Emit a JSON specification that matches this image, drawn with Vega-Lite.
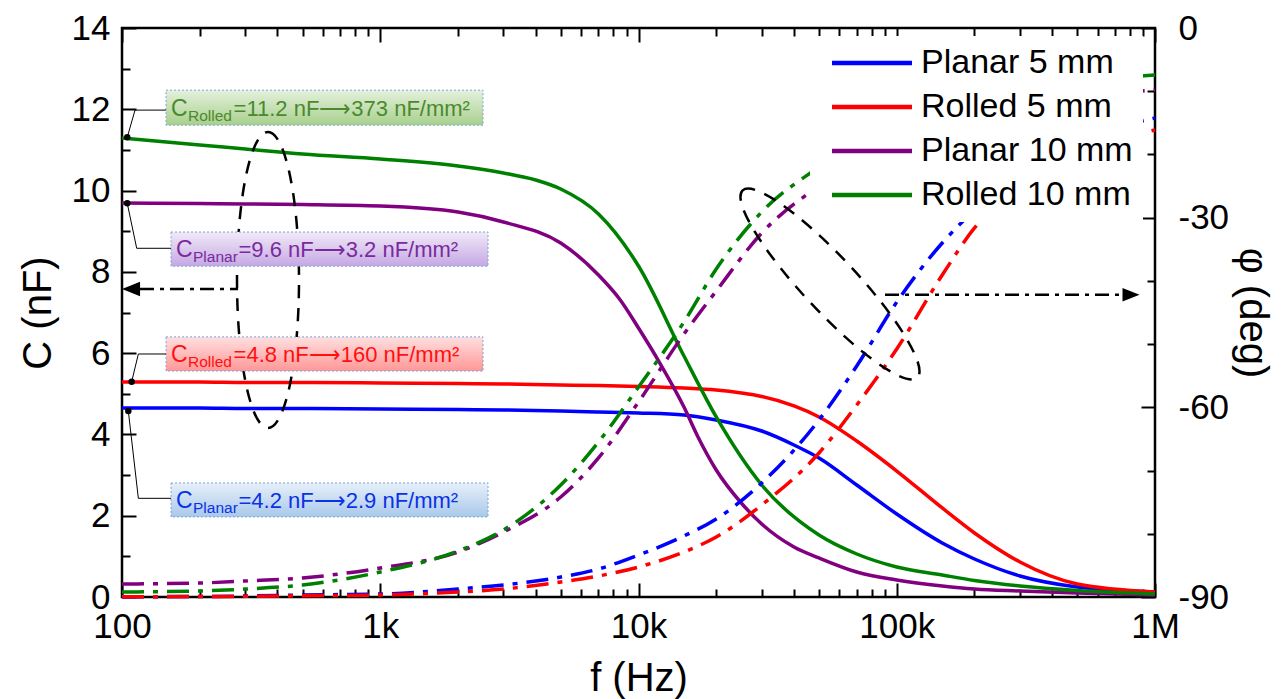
{
  "$schema": "https://vega.github.io/schema/vega-lite/v6.json",
  "width": 1033,
  "height": 569,
  "autosize": {"type": "none"},
  "padding": {"left": 122, "top": 28, "right": 126, "bottom": 102},
  "background": "white",
  "config": {
    "font": "Liberation Sans",
    "view": {"stroke": "black", "strokeWidth": 2.5},
    "axis": {
      "domain": false,
      "grid": false,
      "ticks": true,
      "tickColor": "black",
      "tickWidth": 2,
      "labelColor": "black",
      "titleColor": "black",
      "labelFont": "Liberation Sans",
      "titleFont": "Liberation Sans",
      "labelFontSize": 35,
      "titleFontSize": 40,
      "titleFontWeight": "normal",
      "labelOverlap": false,
      "labelFlush": false,
      "labelBound": false
    }
  },
  "datasets": {
    "cap": [
      {"series": "Planar 5 mm", "f": 100, "c": 4.650}, {"series": "Planar 5 mm", "f": 200, "c": 4.650}, {"series": "Planar 5 mm", "f": 300, "c": 4.638}, {"series": "Planar 5 mm", "f": 500, "c": 4.638}, {"series": "Planar 5 mm", "f": 1000, "c": 4.626}, {"series": "Planar 5 mm", "f": 2000, "c": 4.613}, {"series": "Planar 5 mm", "f": 3000, "c": 4.601}, {"series": "Planar 5 mm", "f": 5000, "c": 4.576}, {"series": "Planar 5 mm", "f": 7000, "c": 4.552}, {"series": "Planar 5 mm", "f": 10000, "c": 4.527}, {"series": "Planar 5 mm", "f": 15000, "c": 4.478}, {"series": "Planar 5 mm", "f": 20000, "c": 4.355}, {"series": "Planar 5 mm", "f": 30000, "c": 4.084}, {"series": "Planar 5 mm", "f": 40000, "c": 3.740}, {"series": "Planar 5 mm", "f": 50000, "c": 3.420}, {"series": "Planar 5 mm", "f": 70000, "c": 2.756}, {"series": "Planar 5 mm", "f": 100000, "c": 2.042}, {"series": "Planar 5 mm", "f": 150000, "c": 1.329}, {"series": "Planar 5 mm", "f": 200000, "c": 0.935}, {"series": "Planar 5 mm", "f": 300000, "c": 0.517}, {"series": "Planar 5 mm", "f": 500000, "c": 0.246}, {"series": "Planar 5 mm", "f": 1000000, "c": 0.123},
      {"series": "Rolled 5 mm", "f": 100, "c": 5.290}, {"series": "Rolled 5 mm", "f": 200, "c": 5.290}, {"series": "Rolled 5 mm", "f": 300, "c": 5.278}, {"series": "Rolled 5 mm", "f": 500, "c": 5.278}, {"series": "Rolled 5 mm", "f": 1000, "c": 5.265}, {"series": "Rolled 5 mm", "f": 2000, "c": 5.253}, {"series": "Rolled 5 mm", "f": 3000, "c": 5.241}, {"series": "Rolled 5 mm", "f": 5000, "c": 5.216}, {"series": "Rolled 5 mm", "f": 7000, "c": 5.204}, {"series": "Rolled 5 mm", "f": 10000, "c": 5.180}, {"series": "Rolled 5 mm", "f": 15000, "c": 5.142}, {"series": "Rolled 5 mm", "f": 20000, "c": 5.093}, {"series": "Rolled 5 mm", "f": 25000, "c": 5.019}, {"series": "Rolled 5 mm", "f": 30000, "c": 4.933}, {"series": "Rolled 5 mm", "f": 40000, "c": 4.700}, {"series": "Rolled 5 mm", "f": 50000, "c": 4.429}, {"series": "Rolled 5 mm", "f": 70000, "c": 3.838}, {"series": "Rolled 5 mm", "f": 100000, "c": 3.100}, {"series": "Rolled 5 mm", "f": 150000, "c": 2.190}, {"series": "Rolled 5 mm", "f": 200000, "c": 1.575}, {"series": "Rolled 5 mm", "f": 300000, "c": 0.861}, {"series": "Rolled 5 mm", "f": 500000, "c": 0.320}, {"series": "Rolled 5 mm", "f": 1000000, "c": 0.123},
      {"series": "Planar 10 mm", "f": 100, "c": 9.694}, {"series": "Planar 10 mm", "f": 200, "c": 9.682}, {"series": "Planar 10 mm", "f": 300, "c": 9.670}, {"series": "Planar 10 mm", "f": 500, "c": 9.657}, {"series": "Planar 10 mm", "f": 1000, "c": 9.620}, {"series": "Planar 10 mm", "f": 2000, "c": 9.473}, {"series": "Planar 10 mm", "f": 3000, "c": 9.227}, {"series": "Planar 10 mm", "f": 5000, "c": 8.710}, {"series": "Planar 10 mm", "f": 7000, "c": 7.923}, {"series": "Planar 10 mm", "f": 8500, "c": 7.308}, {"series": "Planar 10 mm", "f": 10000, "c": 6.619}, {"series": "Planar 10 mm", "f": 12000, "c": 5.794}, {"series": "Planar 10 mm", "f": 15000, "c": 4.675}, {"series": "Planar 10 mm", "f": 17000, "c": 3.937}, {"series": "Planar 10 mm", "f": 20000, "c": 3.125}, {"series": "Planar 10 mm", "f": 25000, "c": 2.313}, {"series": "Planar 10 mm", "f": 30000, "c": 1.796}, {"series": "Planar 10 mm", "f": 40000, "c": 1.230}, {"series": "Planar 10 mm", "f": 50000, "c": 0.960}, {"series": "Planar 10 mm", "f": 70000, "c": 0.615}, {"series": "Planar 10 mm", "f": 100000, "c": 0.418}, {"series": "Planar 10 mm", "f": 150000, "c": 0.271}, {"series": "Planar 10 mm", "f": 200000, "c": 0.197}, {"series": "Planar 10 mm", "f": 300000, "c": 0.148}, {"series": "Planar 10 mm", "f": 500000, "c": 0.098}, {"series": "Planar 10 mm", "f": 1000000, "c": 0.049},
      {"series": "Rolled 10 mm", "f": 100, "c": 11.294}, {"series": "Rolled 10 mm", "f": 200, "c": 11.121}, {"series": "Rolled 10 mm", "f": 300, "c": 11.023}, {"series": "Rolled 10 mm", "f": 500, "c": 10.899}, {"series": "Rolled 10 mm", "f": 1000, "c": 10.776}, {"series": "Rolled 10 mm", "f": 2000, "c": 10.604}, {"series": "Rolled 10 mm", "f": 3000, "c": 10.432}, {"series": "Rolled 10 mm", "f": 4000, "c": 10.259}, {"series": "Rolled 10 mm", "f": 5000, "c": 10.038}, {"series": "Rolled 10 mm", "f": 7000, "c": 9.423}, {"series": "Rolled 10 mm", "f": 10000, "c": 8.144}, {"series": "Rolled 10 mm", "f": 15000, "c": 5.930}, {"series": "Rolled 10 mm", "f": 20000, "c": 4.429}, {"series": "Rolled 10 mm", "f": 30000, "c": 2.756}, {"series": "Rolled 10 mm", "f": 50000, "c": 1.525}, {"series": "Rolled 10 mm", "f": 70000, "c": 1.058}, {"series": "Rolled 10 mm", "f": 100000, "c": 0.738}, {"series": "Rolled 10 mm", "f": 150000, "c": 0.541}, {"series": "Rolled 10 mm", "f": 200000, "c": 0.406}, {"series": "Rolled 10 mm", "f": 300000, "c": 0.271}, {"series": "Rolled 10 mm", "f": 500000, "c": 0.160}, {"series": "Rolled 10 mm", "f": 1000000, "c": 0.074}
    ],
    "phase": [
      {"series": "Planar 5 mm", "f": 100, "phi": -89.95}, {"series": "Planar 5 mm", "f": 200, "phi": -89.92}, {"series": "Planar 5 mm", "f": 300, "phi": -89.84}, {"series": "Planar 5 mm", "f": 500, "phi": -89.68}, {"series": "Planar 5 mm", "f": 1000, "phi": -89.53}, {"series": "Planar 5 mm", "f": 2000, "phi": -88.74}, {"series": "Planar 5 mm", "f": 3000, "phi": -88.10}, {"series": "Planar 5 mm", "f": 5000, "phi": -86.84}, {"series": "Planar 5 mm", "f": 7000, "phi": -85.57}, {"series": "Planar 5 mm", "f": 10000, "phi": -83.36}, {"series": "Planar 5 mm", "f": 15000, "phi": -80.35}, {"series": "Planar 5 mm", "f": 20000, "phi": -77.66}, {"series": "Planar 5 mm", "f": 30000, "phi": -71.97}, {"series": "Planar 5 mm", "f": 50000, "phi": -62.00}, {"series": "Planar 5 mm", "f": 70000, "phi": -53.46}, {"series": "Planar 5 mm", "f": 100000, "phi": -43.34}, {"series": "Planar 5 mm", "f": 150000, "phi": -34.01}, {"series": "Planar 5 mm", "f": 200000, "phi": -28.79}, {"series": "Planar 5 mm", "f": 300000, "phi": -22.78}, {"series": "Planar 5 mm", "f": 500000, "phi": -17.87}, {"series": "Planar 5 mm", "f": 1000000, "phi": -14.24},
      {"series": "Rolled 5 mm", "f": 100, "phi": -89.95}, {"series": "Rolled 5 mm", "f": 200, "phi": -89.93}, {"series": "Rolled 5 mm", "f": 300, "phi": -89.90}, {"series": "Rolled 5 mm", "f": 500, "phi": -89.80}, {"series": "Rolled 5 mm", "f": 1000, "phi": -89.68}, {"series": "Rolled 5 mm", "f": 2000, "phi": -89.21}, {"series": "Rolled 5 mm", "f": 3000, "phi": -88.74}, {"series": "Rolled 5 mm", "f": 5000, "phi": -87.63}, {"series": "Rolled 5 mm", "f": 7000, "phi": -86.68}, {"series": "Rolled 5 mm", "f": 10000, "phi": -85.26}, {"series": "Rolled 5 mm", "f": 15000, "phi": -82.88}, {"series": "Rolled 5 mm", "f": 20000, "phi": -80.51}, {"series": "Rolled 5 mm", "f": 30000, "phi": -75.45}, {"series": "Rolled 5 mm", "f": 50000, "phi": -67.22}, {"series": "Rolled 5 mm", "f": 70000, "phi": -59.63}, {"series": "Rolled 5 mm", "f": 100000, "phi": -50.77}, {"series": "Rolled 5 mm", "f": 150000, "phi": -39.07}, {"series": "Rolled 5 mm", "f": 200000, "phi": -31.63}, {"series": "Rolled 5 mm", "f": 300000, "phi": -24.99}, {"series": "Rolled 5 mm", "f": 500000, "phi": -19.77}, {"series": "Rolled 5 mm", "f": 1000000, "phi": -16.13},
      {"series": "Planar 10 mm", "f": 100, "phi": -87.94}, {"series": "Planar 10 mm", "f": 200, "phi": -87.79}, {"series": "Planar 10 mm", "f": 300, "phi": -87.47}, {"series": "Planar 10 mm", "f": 500, "phi": -86.99}, {"series": "Planar 10 mm", "f": 1000, "phi": -85.41}, {"series": "Planar 10 mm", "f": 2000, "phi": -82.88}, {"series": "Planar 10 mm", "f": 3000, "phi": -79.72}, {"series": "Planar 10 mm", "f": 5000, "phi": -74.18}, {"series": "Planar 10 mm", "f": 7000, "phi": -68.01}, {"series": "Planar 10 mm", "f": 10000, "phi": -59.16}, {"series": "Planar 10 mm", "f": 15000, "phi": -48.40}, {"series": "Planar 10 mm", "f": 20000, "phi": -41.60}, {"series": "Planar 10 mm", "f": 30000, "phi": -32.43}, {"series": "Planar 10 mm", "f": 50000, "phi": -24.99}, {"series": "Planar 10 mm", "f": 70000, "phi": -21.19}, {"series": "Planar 10 mm", "f": 100000, "phi": -18.03}, {"series": "Planar 10 mm", "f": 150000, "phi": -15.50}, {"series": "Planar 10 mm", "f": 200000, "phi": -13.92}, {"series": "Planar 10 mm", "f": 300000, "phi": -12.34}, {"series": "Planar 10 mm", "f": 500000, "phi": -10.91}, {"series": "Planar 10 mm", "f": 1000000, "phi": -9.81},
      {"series": "Rolled 10 mm", "f": 100, "phi": -89.21}, {"series": "Rolled 10 mm", "f": 200, "phi": -89.05}, {"series": "Rolled 10 mm", "f": 300, "phi": -88.74}, {"series": "Rolled 10 mm", "f": 500, "phi": -88.10}, {"series": "Rolled 10 mm", "f": 1000, "phi": -86.05}, {"series": "Rolled 10 mm", "f": 2000, "phi": -82.72}, {"series": "Rolled 10 mm", "f": 3000, "phi": -79.40}, {"series": "Rolled 10 mm", "f": 5000, "phi": -72.28}, {"series": "Rolled 10 mm", "f": 7000, "phi": -65.48}, {"series": "Rolled 10 mm", "f": 10000, "phi": -56.78}, {"series": "Rolled 10 mm", "f": 15000, "phi": -46.50}, {"series": "Rolled 10 mm", "f": 20000, "phi": -38.12}, {"series": "Rolled 10 mm", "f": 30000, "phi": -29.10}, {"series": "Rolled 10 mm", "f": 50000, "phi": -21.99}, {"series": "Rolled 10 mm", "f": 70000, "phi": -18.03}, {"series": "Rolled 10 mm", "f": 100000, "phi": -14.87}, {"series": "Rolled 10 mm", "f": 150000, "phi": -12.18}, {"series": "Rolled 10 mm", "f": 200000, "phi": -10.76}, {"series": "Rolled 10 mm", "f": 300000, "phi": -9.49}, {"series": "Rolled 10 mm", "f": 500000, "phi": -8.38}, {"series": "Rolled 10 mm", "f": 1000000, "phi": -7.43}
    ],
    "notes": [
      {"series": "Rolled 10 mm", "sub": "Rolled", "rest": "=11.2 nF⟶373 nF/mm²", "f_from": 148.1, "f_to": 2500, "c_low": 11.61, "c_high": 12.47},
      {"series": "Planar 10 mm", "sub": "Planar", "rest": "=9.6 nF⟶3.2 nF/mm²", "f_from": 154.8, "f_to": 2614, "c_low": 8.14, "c_high": 8.98},
      {"series": "Rolled 5 mm", "sub": "Rolled", "rest": "=4.8 nF⟶160 nF/mm²", "f_from": 148.1, "f_to": 2500, "c_low": 5.56, "c_high": 6.40},
      {"series": "Planar 5 mm", "sub": "Planar", "rest": "=4.2 nF⟶2.9 nF/mm²", "f_from": 154.8, "f_to": 2614, "c_low": 1.97, "c_high": 2.805}
    ],
    "leaders": [
      {"series": "Rolled 10 mm", "step": 0, "f": 104.8, "c": 11.31}, {"series": "Rolled 10 mm", "step": 1, "f": 112.3, "c": 11.98}, {"series": "Rolled 10 mm", "step": 2, "f": 148.1, "c": 11.98},
      {"series": "Planar 10 mm", "step": 0, "f": 104.8, "c": 9.687}, {"series": "Planar 10 mm", "step": 1, "f": 114.0, "c": 8.58}, {"series": "Planar 10 mm", "step": 2, "f": 154.8, "c": 8.58},
      {"series": "Rolled 5 mm", "step": 0, "f": 109.0, "c": 5.297}, {"series": "Rolled 5 mm", "step": 1, "f": 115.7, "c": 5.979}, {"series": "Rolled 5 mm", "step": 2, "f": 148.1, "c": 5.979},
      {"series": "Planar 5 mm", "step": 0, "f": 105.8, "c": 4.576}, {"series": "Planar 5 mm", "step": 1, "f": 115.7, "c": 2.428}, {"series": "Planar 5 mm", "step": 2, "f": 154.8, "c": 2.428}
    ],
    "ring_cap": [{"f": 367.6, "c": 7.80}],
    "ring_phase": [{"f": 55140, "phi": -40.5}],
    "pointer_cap": [{"f": 117.4, "c": 7.58}, {"f": 281.4, "c": 7.58}],
    "pointer_phase": [{"f": 90060, "phi": -42.2}, {"f": 745000, "phi": -42.2}],
    "tip_cap": [{"f": 108.4, "c": 7.58}],
    "tip_phase": [{"f": 807400, "phi": -42.2}]
  },
  "layer": [
    {
      "layer": [
        {
          "data": {"name": "cap"},
          "mark": {"type": "line", "strokeWidth": 3.5, "interpolate": "monotone"},
          "encoding": {
            "x": {
              "field": "f", "type": "quantitative",
              "scale": {"type": "log", "domain": [100, 1000000]},
              "axis": {
                "orient": "bottom",
                "values": [100, 200, 300, 400, 500, 600, 700, 800, 900, 1000, 2000, 3000, 4000, 5000, 6000, 7000, 8000, 9000, 10000, 20000, 30000, 40000, 50000, 60000, 70000, 80000, 90000, 100000, 200000, 300000, 400000, 500000, 600000, 700000, 800000, 900000, 1000000],
                "labelExpr": "datum.value == 100 ? '100' : datum.value == 1000 ? '1k' : datum.value == 10000 ? '10k' : datum.value == 100000 ? '100k' : datum.value == 1000000 ? '1M' : ''",
                "tickSize": {"condition": {"test": "indexof([100, 1000, 10000, 100000, 1000000], datum.value) >= 0", "value": -14}, "value": -8},
                "labelPadding": 26,
                "title": "f (Hz)",
                "titlePadding": 8
              }
            },
            "y": {
              "field": "c", "type": "quantitative",
              "scale": {"domain": [0, 14], "nice": false},
              "axis": {
                "orient": "left",
                "values": [0, 1, 2, 3, 4, 5, 6, 7, 8, 9, 10, 11, 12, 13, 14],
                "labelExpr": "datum.value % 2 == 0 ? '' + datum.value : ''",
                "tickSize": {"condition": {"test": "datum.value % 2 == 0", "value": -14}, "value": -8},
                "labelPadding": 26,
                "title": "C (nF)",
                "titleX": -64,
                "titleBaseline": "bottom"
              }
            },
            "color": {
              "field": "series", "type": "nominal",
              "scale": {"domain": ["Planar 5 mm", "Rolled 5 mm", "Planar 10 mm", "Rolled 10 mm"], "range": ["#0000ff", "#ff0000", "#800080", "#008000"]},
              "legend": {
                "orient": "none", "legendX": 688, "legendY": 8, "title": null,
                "symbolType": "M-1,0L15,0", "symbolSize": 100, "symbolStrokeWidth": 4.5,
                "labelFontSize": 34, "labelFont": "Liberation Sans", "labelColor": "black", "labelLimit": 400,
                "labelOffset": 67, "rowPadding": 10, "padding": 10, "fillColor": "white"
              }
            }
          }
        },
        {
          "data": {"name": "ring_cap"},
          "mark": {"type": "point", "shape": "M0,-1C0.1157,-1,0.2095,-0.5523,0.2095,0C0.2095,0.5523,0.1157,1,0,1C-0.1157,1,-0.2095,0.5523,-0.2095,0C-0.2095,-0.5523,-0.1157,-1,0,-1Z", "size": 87616, "filled": false, "color": "black", "strokeWidth": 2.5, "strokeDash": [13, 10], "opacity": 1},
          "encoding": {"x": {"field": "f", "type": "quantitative"}, "y": {"field": "c", "type": "quantitative"}}
        },
        {
          "data": {"name": "notes"},
          "transform": [{"filter": "datum.series == 'Rolled 10 mm'"}],
          "mark": {"type": "rect", "stroke": "#7aa3d6", "strokeWidth": 1, "strokeDash": [2, 2],
            "fill": {"gradient": "linear", "x1": 0, "y1": 0, "x2": 0, "y2": 1, "stops": [{"offset": 0, "color": "#e4f0dc"}, {"offset": 1, "color": "#a8d08d"}]}},
          "encoding": {"x": {"field": "f_from", "type": "quantitative"}, "x2": {"field": "f_to"}, "y": {"field": "c_low", "type": "quantitative"}, "y2": {"field": "c_high"}}
        },
        {
          "data": {"name": "notes"},
          "transform": [{"filter": "datum.series == 'Planar 10 mm'"}],
          "mark": {"type": "rect", "stroke": "#7aa3d6", "strokeWidth": 1, "strokeDash": [2, 2],
            "fill": {"gradient": "linear", "x1": 0, "y1": 0, "x2": 0, "y2": 1, "stops": [{"offset": 0, "color": "#f1eaf8"}, {"offset": 1, "color": "#c5a8e3"}]}},
          "encoding": {"x": {"field": "f_from", "type": "quantitative"}, "x2": {"field": "f_to"}, "y": {"field": "c_low", "type": "quantitative"}, "y2": {"field": "c_high"}}
        },
        {
          "data": {"name": "notes"},
          "transform": [{"filter": "datum.series == 'Rolled 5 mm'"}],
          "mark": {"type": "rect", "stroke": "#7aa3d6", "strokeWidth": 1, "strokeDash": [2, 2],
            "fill": {"gradient": "linear", "x1": 0, "y1": 0, "x2": 0, "y2": 1, "stops": [{"offset": 0, "color": "#ffe0e0"}, {"offset": 1, "color": "#ff9797"}]}},
          "encoding": {"x": {"field": "f_from", "type": "quantitative"}, "x2": {"field": "f_to"}, "y": {"field": "c_low", "type": "quantitative"}, "y2": {"field": "c_high"}}
        },
        {
          "data": {"name": "notes"},
          "transform": [{"filter": "datum.series == 'Planar 5 mm'"}],
          "mark": {"type": "rect", "stroke": "#7aa3d6", "strokeWidth": 1, "strokeDash": [2, 2],
            "fill": {"gradient": "linear", "x1": 0, "y1": 0, "x2": 0, "y2": 1, "stops": [{"offset": 0, "color": "#e6f0fa"}, {"offset": 1, "color": "#a9c8ea"}]}},
          "encoding": {"x": {"field": "f_from", "type": "quantitative"}, "x2": {"field": "f_to"}, "y": {"field": "c_low", "type": "quantitative"}, "y2": {"field": "c_high"}}
        },
        {
          "data": {"name": "leaders"},
          "mark": {"type": "line", "color": "black", "strokeWidth": 1},
          "encoding": {"x": {"field": "f", "type": "quantitative"}, "y": {"field": "c", "type": "quantitative"}, "detail": {"field": "series"}, "order": {"field": "step"}}
        },
        {
          "data": {"name": "leaders"},
          "transform": [{"filter": "datum.step == 0"}],
          "mark": {"type": "circle", "color": "black", "size": 42, "opacity": 1},
          "encoding": {"x": {"field": "f", "type": "quantitative"}, "y": {"field": "c", "type": "quantitative"}}
        },
        {
          "data": {"name": "notes"},
          "mark": {"type": "text", "text": "C", "fontSize": 23, "align": "left", "baseline": "alphabetic", "dx": 5, "dy": -9},
          "encoding": {
            "x": {"field": "f_from", "type": "quantitative"}, "y": {"field": "c_low", "type": "quantitative"},
            "fill": {"field": "series", "type": "nominal", "scale": {"domain": ["Planar 5 mm", "Rolled 5 mm", "Planar 10 mm", "Rolled 10 mm"], "range": ["#0a32e6", "#ff1010", "#7a2a9e", "#4a8a2c"]}, "legend": null}
          }
        },
        {
          "data": {"name": "notes"},
          "mark": {"type": "text", "fontSize": 15.5, "align": "left", "baseline": "alphabetic", "dx": 22, "dy": -4},
          "encoding": {
            "x": {"field": "f_from", "type": "quantitative"}, "y": {"field": "c_low", "type": "quantitative"},
            "text": {"field": "sub"},
            "fill": {"field": "series", "type": "nominal", "legend": null}
          }
        },
        {
          "data": {"name": "notes"},
          "mark": {"type": "text", "fontSize": 22, "align": "left", "baseline": "alphabetic", "dx": 67.5, "dy": -9},
          "encoding": {
            "x": {"field": "f_from", "type": "quantitative"}, "y": {"field": "c_low", "type": "quantitative"},
            "text": {"field": "rest"},
            "fill": {"field": "series", "type": "nominal", "legend": null}
          }
        },
        {
          "data": {"name": "pointer_cap"},
          "mark": {"type": "line", "color": "black", "strokeWidth": 2.5, "strokeDash": [14, 6, 4, 6]},
          "encoding": {"x": {"field": "f", "type": "quantitative"}, "y": {"field": "c", "type": "quantitative"}}
        },
        {
          "data": {"name": "tip_cap"},
          "mark": {"type": "point", "shape": "M-1,0L1,-0.8L1,0.8Z", "size": 324, "filled": true, "color": "black", "opacity": 1, "strokeWidth": 0},
          "encoding": {"x": {"field": "f", "type": "quantitative"}, "y": {"field": "c", "type": "quantitative"}}
        }
      ]
    },
    {
      "layer": [
        {
          "data": {"name": "phase"},
          "mark": {"type": "line", "strokeWidth": 3.5, "strokeDash": [22, 9, 5, 9], "interpolate": "monotone"},
          "encoding": {
            "x": {
              "field": "f", "type": "quantitative",
              "scale": {"type": "log", "domain": [100, 1000000]},
              "axis": {
                "orient": "top",
                "values": [100, 200, 300, 400, 500, 600, 700, 800, 900, 1000, 2000, 3000, 4000, 5000, 6000, 7000, 8000, 9000, 10000, 20000, 30000, 40000, 50000, 60000, 70000, 80000, 90000, 100000, 200000, 300000, 400000, 500000, 600000, 700000, 800000, 900000, 1000000],
                "labels": false,
                "title": null,
                "tickSize": {"condition": {"test": "indexof([100, 1000, 10000, 100000, 1000000], datum.value) >= 0", "value": -14}, "value": -8}
              }
            },
            "y": {
              "field": "phi", "type": "quantitative",
              "scale": {"domain": [-90, 0], "nice": false},
              "axis": {
                "orient": "right",
                "values": [0, -10, -20, -30, -40, -50, -60, -70, -80, -90],
                "labelExpr": "datum.value % 30 == 0 ? '' + datum.value : ''",
                "tickSize": {"condition": {"test": "datum.value % 30 == 0", "value": -14}, "value": -8},
                "labelPadding": 37,
                "title": "φ (deg)",
                "titlePadding": 3
              }
            },
            "color": {"field": "series", "type": "nominal", "legend": null}
          }
        },
        {
          "data": {"name": "ring_phase"},
          "mark": {"type": "point", "shape": "M-1,0C-1,-0.1165,-0.5523,-0.211,0,-0.211C0.5523,-0.211,1,-0.1165,1,0C1,0.1165,0.5523,0.211,0,0.211C-0.5523,0.211,-1,0.1165,-1,0Z", "size": 65536, "angle": 47, "filled": false, "color": "black", "strokeWidth": 2.5, "strokeDash": [13, 10], "opacity": 1},
          "encoding": {"x": {"field": "f", "type": "quantitative"}, "y": {"field": "phi", "type": "quantitative"}}
        },
        {
          "data": {"name": "pointer_phase"},
          "mark": {"type": "line", "color": "black", "strokeWidth": 2.5, "strokeDash": [14, 6, 4, 6]},
          "encoding": {"x": {"field": "f", "type": "quantitative"}, "y": {"field": "phi", "type": "quantitative"}}
        },
        {
          "data": {"name": "tip_phase"},
          "mark": {"type": "point", "shape": "M1,0L-1,-0.8L-1,0.8Z", "size": 289, "filled": true, "color": "black", "opacity": 1, "strokeWidth": 0},
          "encoding": {"x": {"field": "f", "type": "quantitative"}, "y": {"field": "phi", "type": "quantitative"}}
        }
      ]
    }
  ],
  "resolve": {"scale": {"y": "independent"}, "axis": {"x": "independent"}}
}
